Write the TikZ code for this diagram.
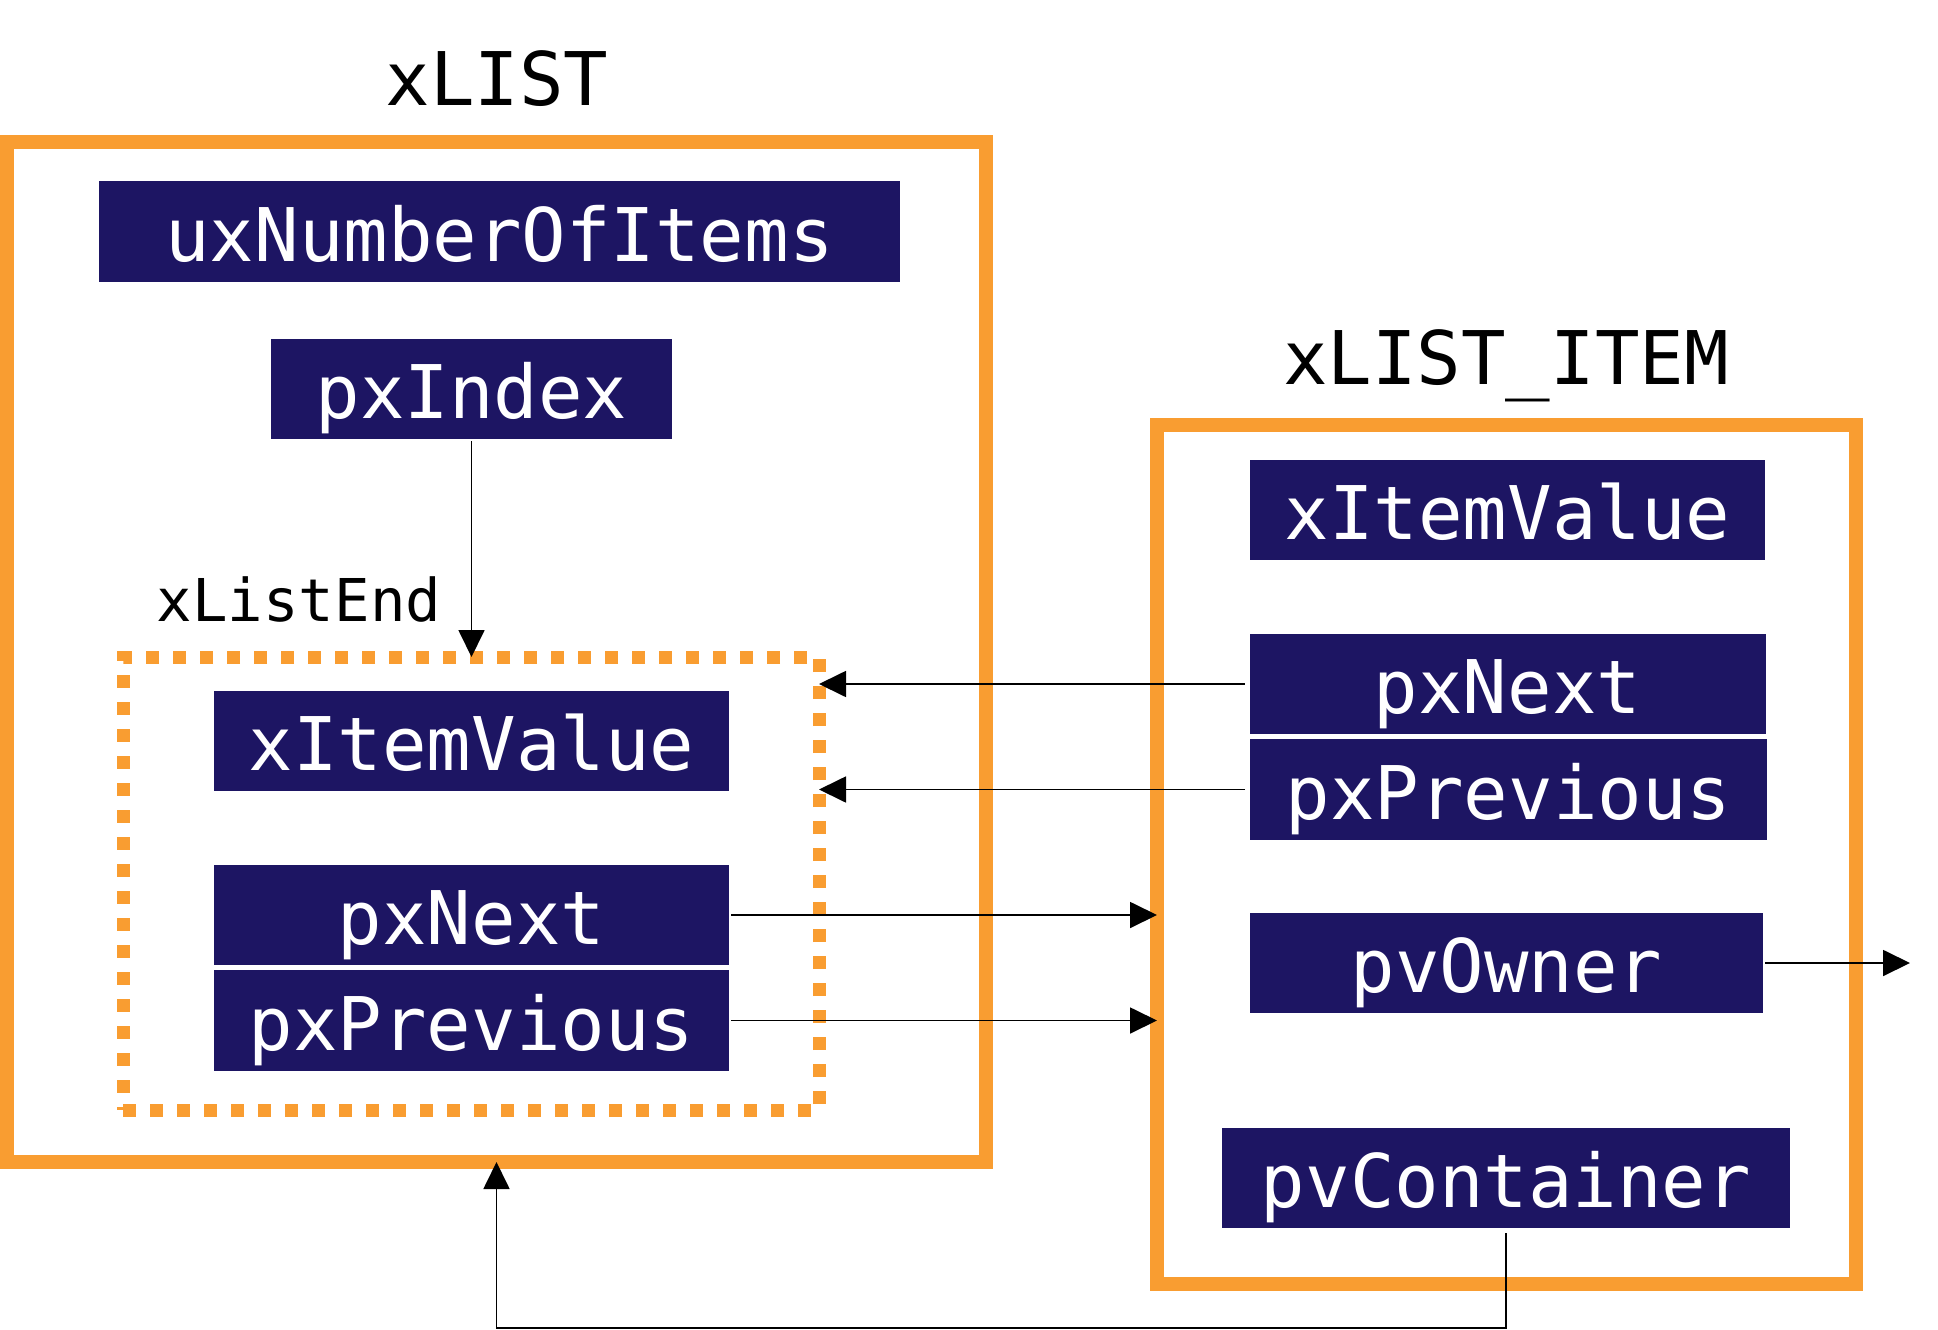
\documentclass[tikz,border=0pt]{standalone}
\usepackage{fontspec}
\setmonofont{DejaVu Sans Mono}
\usetikzlibrary{arrows.meta}
\definecolor{navy}{RGB}{29,21,99}
\definecolor{orng}{RGB}{249,157,49}
\begin{document}
\begin{tikzpicture}[x=1pt,y=-1pt,
  field/.style={fill=navy, text=white, inner sep=0pt, outer sep=0pt,
    font=\ttfamily\fontsize{74}{80}\selectfont, text height=59pt, text depth=0pt},
  frame/.style={draw=orng, line width=14pt, inner sep=0pt, outer sep=0pt},
  dotframe/.style={draw=orng, line width=13pt, dash pattern=on 13pt off 14pt, inner sep=0pt, outer sep=0pt},
  title/.style={font=\ttfamily\fontsize{74}{80}\selectfont, anchor=base},
  conn/.style={line width=1.8pt, -{Triangle[length=27pt,width=26pt]}}]
\useasboundingbox (0,0) rectangle (1938,1330);

% frames
\node[frame, minimum width=979pt, minimum height=1020pt] (xlist) at (496.5,652) {};
\node[frame, minimum width=699pt, minimum height=859pt] (item) at (1506.5,854.5) {};
\node[dotframe, minimum width=696pt, minimum height=453pt] (xle) at (471,883.5) {};

% titles
\node[title] (t1) at (497,105) {xLIST};
\node[title] (t2) at (1506,384) {xLIST\_ITEM};
\node[font=\ttfamily\fontsize{59}{64}\selectfont, anchor=base] (t3) at (299,621) {xListEnd};

% xLIST fields
\node[field, minimum width=801pt, minimum height=101pt] (ux) at (499.5,231.5) {uxNumberOfItems};
\node[field, minimum width=401pt, minimum height=100pt] (pxi) at (471.5,389) {pxIndex};
\node[field, minimum width=515pt, minimum height=100pt] (iv1) at (471.5,741) {xItemValue};
\node[field, minimum width=515pt, minimum height=100pt] (pn1) at (471.5,915) {pxNext};
\node[field, minimum width=515pt, minimum height=101pt] (pp1) at (471.5,1020.5) {pxPrevious};

% xLIST_ITEM fields
\node[field, minimum width=515pt, minimum height=100pt] (iv2) at (1507.5,510) {xItemValue};
\node[field, minimum width=516pt, minimum height=100pt] (pn2) at (1507.5,684) {pxNext};
\node[field, minimum width=517pt, minimum height=101pt] (pp2) at (1508.5,789.5) {pxPrevious};
\node[field, minimum width=513pt, minimum height=100pt] (pvo) at (1506.5,963) {pvOwner};
\node[field, minimum width=568pt, minimum height=100pt] (pvc) at (1506,1178) {pvContainer};

\coordinate (ownerend) at (1910,963);
\coordinate (bottomrun) at (1506,1328);

% connectors
\draw[conn, shorten <=2pt] (pxi.south) -- (pxi.south |- xle.north);
\draw[conn, shorten <=5pt] (pn2.west) -- (pn2.west -| xle.east);
\draw[conn, shorten <=5pt] (pp2.west) -- (pp2.west -| xle.east);
\draw[conn, shorten <=2pt] (pn1.east) -- (pn1.east -| item.west);
\draw[conn, shorten <=2pt] (pp1.east) -- (pp1.east -| item.west);
\draw[conn, shorten <=2pt] (pvo.east) -- (ownerend);
\draw[conn, shorten <=5pt] (pvc.south) -- (bottomrun) -| (xlist.south);
\end{tikzpicture}
\end{document}
